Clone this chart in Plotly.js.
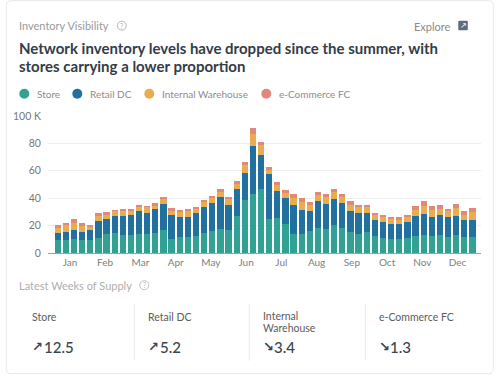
<!DOCTYPE html>
<html><head><meta charset="utf-8">
<script src="https://cdn.plot.ly/plotly-3.0.1.min.js"></script>
<style>html,body{margin:0;padding:0;background:#fff;overflow:hidden}#c{width:500px;height:375px}</style>
</head><body><div id="c"></div>
<script>
const store=[9.7,9.7,10.2,9.2,9.7,11.2,13.9,14.4,13.4,12.9,13.9,13.9,14.4,17.0,10.2,11.7,11.7,12.7,14.4,16.1,17.8,16.5,26.8,38.4,43.3,46.7,25.1,25.8,21.2,13.6,13.6,16.1,18.2,17.8,20.4,18.5,15.6,14.1,15.6,12.4,11.2,10.5,10.0,10.7,12.7,13.4,12.7,13.4,11.9,13.1,11.4,11.9];
const retailDC=[5.1,5.8,6.8,6.3,7.1,12.2,11.2,12.7,13.6,14.6,16.5,15.6,17.5,18.7,17.3,14.4,14.8,16.3,19.5,20.2,22.9,18.7,20.2,19.7,34.8,25.1,32.6,19.2,19.0,21.7,17.5,14.4,19.5,18.2,19.2,18.2,14.8,14.8,13.9,11.7,11.7,10.9,10.9,11.7,14.6,15.3,13.6,14.4,14.4,14.1,12.4,12.4];
const internalWarehouse=[3.6,4.9,4.9,4.4,1.9,3.6,2.9,3.4,3.4,2.9,3.2,4.1,2.7,3.9,3.4,3.6,4.1,3.4,3.4,3.9,3.9,4.4,3.4,5.8,8.5,6.8,3.2,4.9,3.6,4.9,6.1,4.9,4.9,4.6,4.9,4.4,4.9,4.4,4.1,3.4,3.2,3.4,3.4,3.6,3.9,5.8,5.1,4.6,4.4,5.8,3.9,5.6];
const eCommerceFC=[1.7,1.7,2.7,1.7,1.7,2.2,1.9,1.0,1.7,1.7,1.2,1.0,1.9,1.5,1.7,1.7,1.5,1.5,1.7,1.5,2.4,1.5,2.2,2.7,4.6,2.4,1.7,1.9,1.9,2.7,2.9,1.9,1.9,2.4,2.2,1.9,2.4,1.7,1.7,1.9,1.7,1.7,1.7,1.5,3.2,3.4,2.9,2.7,1.7,2.9,2.7,2.7];
const weeks=store.map((_,i)=>i+1);
const monthLabels=['Jan','Feb','Mar','Apr','May','Jun','Jul','Aug','Sep','Oct','Nov','Dec'];
const monthPositions=[2.5,6.83,11.17,15.5,19.83,24.17,28.5,32.83,37.17,41.5,45.83,50.17];
const yTicks=[0,20,40,60,80,100];
const yTickLabels=['0','20','40','60','80','100 K'];
const seriesNames=['Store','Retail DC','Internal Warehouse','e-Commerce FC'];
const seriesColors=['#2fa294','#22709f','#e9ad50','#e0897a'];
const supplyValues=['12.5','5.2','3.4','1.3'];
const supplyArrows=['↗','↗','↘','↘'];

const F='Lato, "Open Sans", sans-serif';
const W=500,H=375,L=47.7,R=19.3,T=116.3,B=121.7,pw=W-L-R,ph=H-T-B;
const px=x=>(x-L)/pw, py=y=>1-(y-T)/ph;
function txt(x,y,text,size,color,opt){return Object.assign({xref:'paper',yref:'paper',x:px(x),y:py(y),text,showarrow:false,xanchor:'left',yanchor:'middle',font:{family:F,size,color},align:'left',borderpad:0},opt||{});}
function circ(cx,cy,r,o){return Object.assign({type:'circle',xref:'paper',yref:'paper',x0:px(cx-r),x1:px(cx+r),y0:py(cy+r),y1:py(cy-r)},o);}
function roundRect(x0,y0,x1,y1,r){
  const X=px,Y=py;
  return `M${X(x0+r)},${Y(y0)} L${X(x1-r)},${Y(y0)} Q${X(x1)},${Y(y0)} ${X(x1)},${Y(y0+r)} L${X(x1)},${Y(y1-r)} Q${X(x1)},${Y(y1)} ${X(x1-r)},${Y(y1)} L${X(x0+r)},${Y(y1)} Q${X(x0)},${Y(y1)} ${X(x0)},${Y(y1-r)} L${X(x0)},${Y(y0+r)} Q${X(x0)},${Y(y0)} ${X(x0+r)},${Y(y0)} Z`;
}
const vals=[store,retailDC,internalWarehouse,eCommerceFC];
const traces=seriesNames.map((n,i)=>({type:'bar',name:n,x:weeks,y:vals[i],width:0.77,marker:{color:seriesColors[i],line:{width:0}},hoverinfo:'x+y+name'}));

const shapes=[
 {type:'path',xref:'paper',yref:'paper',path:roundRect(6,1,493,374,5),line:{color:'#e6e8ec',width:1},fillcolor:'#ffffff',layer:'below'},
 circ(121.5,26,4.5,{line:{color:'#b5b5b5',width:1},fillcolor:'rgba(0,0,0,0)'}),
 circ(144,285.5,4.5,{line:{color:'#c2c2c2',width:1},fillcolor:'rgba(0,0,0,0)'}),
 {type:'path',xref:'paper',yref:'paper',path:roundRect(458,21,467.5,30.5,1),line:{width:0},fillcolor:'#5d6b7e'}
];
[134,249,365].forEach(x=>shapes.push({type:'line',xref:'paper',yref:'paper',x0:px(x),x1:px(x),y0:py(304),y1:py(361),line:{color:'#e9e9e9',width:1}}));
const legendDots=[24,77,149,266], legendText=[35.5,88.5,160.5,277.5];
seriesNames.forEach((n,i)=>shapes.push(circ(legendDots[i],94,5,{line:{width:0},fillcolor:seriesColors[i]})));

const ann=[
 txt(18,26,'Inventory Visibility',11,'#9a9a9a'),
 txt(121.5,26,'?',7,'#b0b0b0',{xanchor:'center'}),
 txt(413,26.5,'Explore',11,'#8a8a8a'),
 txt(462.8,25.8,'↗',8,'#ffffff',{xanchor:'center',font:{family:'DejaVu Sans',size:8,color:'#fff'}}),
 txt(18,48,'Network inventory levels have dropped since the summer, with',15,'#333c48',{font:{family:F,size:15,color:'#333c48',weight:700}}),
 txt(18,66.5,'stores carrying a lower proportion',15,'#333c48',{font:{family:F,size:15,color:'#333c48',weight:700}}),
 txt(18,286,'Latest Weeks of Supply',11,'#aeaeae'),
 txt(144,285.5,'?',7,'#bcbcbc',{xanchor:'center'})
];
seriesNames.forEach((n,i)=>ann.push(txt(legendText[i],94.5,n,10,'#8c8c8c')));
const cardX=[31,147,262,378];
const cardLabels=['Store','Retail DC','Internal','e-Commerce FC'];
cardLabels.forEach((n,i)=>ann.push(txt(cardX[i],i==2?316:317.5,n,10.5,'#5c5c5c')));
ann.push(txt(262,328.5,'Warehouse',10.5,'#5c5c5c'));
const numX=[42.5,158.5,273,389];
supplyValues.forEach((v,i)=>{
  ann.push(txt(cardX[i],346.5,supplyArrows[i],13,'#3a4450',{font:{family:'DejaVu Sans',size:13,color:'#3a4450',weight:700}}));
  ann.push(txt(numX[i],347.5,v,15,'#3a4450',{font:{family:F,size:15,color:'#3a4450',weight:500}}));
});

Plotly.newPlot('c',traces,{
 width:W,height:H,barmode:'stack',bargap:0,showlegend:false,
 margin:{l:L,r:R,t:T,b:B,pad:0},
 paper_bgcolor:'#fff',plot_bgcolor:'rgba(0,0,0,0)',
 font:{family:F},
 xaxis:{range:[-0.2,53.05],tickmode:'array',tickvals:monthPositions,ticktext:monthLabels,tickfont:{family:F,size:10,color:'#808080'},showgrid:false,zeroline:false,showline:true,linecolor:'#9aa0a6',linewidth:1,ticks:'',fixedrange:true,ticklen:0},
 yaxis:{range:[0,100],tickmode:'array',tickvals:yTicks,ticktext:yTickLabels,tickfont:{family:F,size:10.5,color:'#777'},gridcolor:'#eeeeee',gridwidth:1,zeroline:false,showline:false,ticks:'outside',ticklen:4,tickcolor:'rgba(0,0,0,0)',fixedrange:true},
 shapes,annotations:ann
},{displayModeBar:false,staticPlot:true});
</script></body></html>
